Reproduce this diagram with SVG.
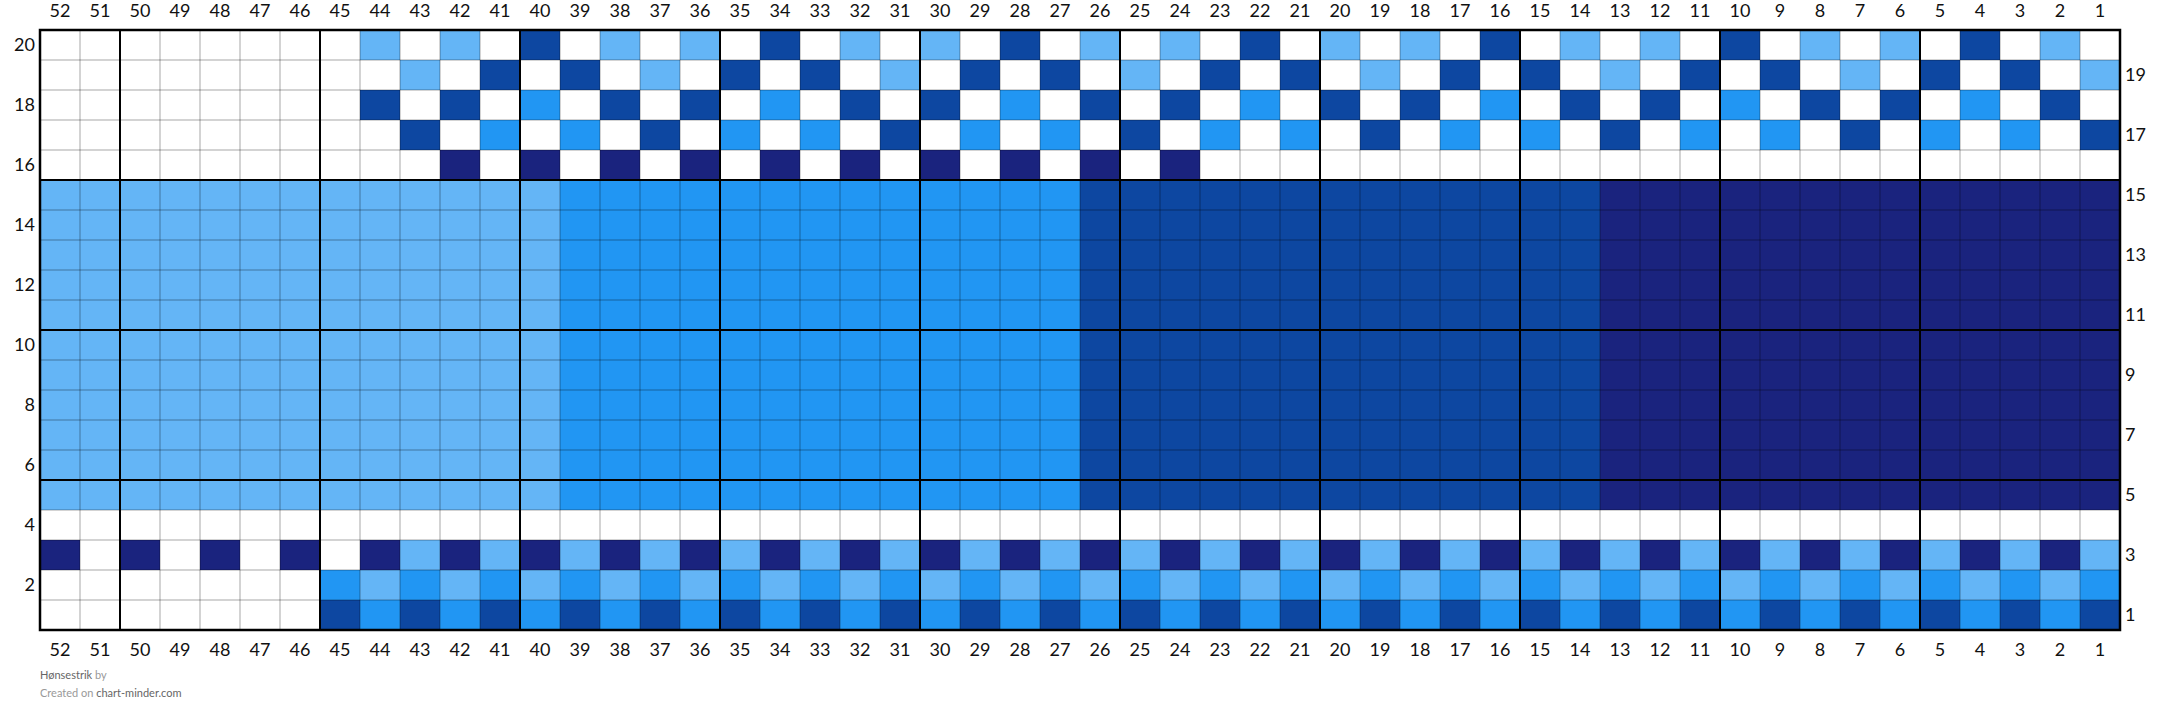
<svg xmlns="http://www.w3.org/2000/svg" width="2160" height="723" viewBox="0 0 2160 723">
<style>
.lbl{font-family:Lato,"Liberation Sans",sans-serif;font-size:18px;fill:#111;}
.top,.bot{text-anchor:middle;}
.lft{text-anchor:end;}
.rgt{text-anchor:start;}
.thin{fill:none;stroke:#000;stroke-opacity:0.35;stroke-width:1;}
.thick{fill:none;stroke:#000;stroke-width:2;}
.foot{font-family:Lato,"Liberation Sans",sans-serif;font-size:11px;}
</style>
<defs>
<pattern id="pR1" width="80" height="30" patternUnits="userSpaceOnUse"><rect width="40" height="30" fill="#0D47A1"/><rect x="40" width="40" height="30" fill="#2196F3"/></pattern>
<pattern id="pR2" width="80" height="30" patternUnits="userSpaceOnUse"><rect width="40" height="30" fill="#2196F3"/><rect x="40" width="40" height="30" fill="#64B5F6"/></pattern>
<pattern id="pR3" width="80" height="30" patternUnits="userSpaceOnUse"><rect width="40" height="30" fill="#64B5F6"/><rect x="40" width="40" height="30" fill="#1A237E"/></pattern>
<pattern id="pN" width="80" height="30" patternUnits="userSpaceOnUse"><rect x="40" width="40" height="30" fill="#1A237E"/></pattern>
<pattern id="p20" width="240" height="30" patternUnits="userSpaceOnUse"><rect x="40" width="40" height="30" fill="#0D47A1"/><rect x="120" width="40" height="30" fill="#64B5F6"/><rect x="200" width="40" height="30" fill="#64B5F6"/></pattern>
<pattern id="p19" width="240" height="30" patternUnits="userSpaceOnUse"><rect x="0" width="40" height="30" fill="#0D47A1"/><rect x="80" width="40" height="30" fill="#0D47A1"/><rect x="160" width="40" height="30" fill="#64B5F6"/></pattern>
<pattern id="p18" width="240" height="30" patternUnits="userSpaceOnUse"><rect x="40" width="40" height="30" fill="#2196F3"/><rect x="120" width="40" height="30" fill="#0D47A1"/><rect x="200" width="40" height="30" fill="#0D47A1"/></pattern>
<pattern id="p17" width="240" height="30" patternUnits="userSpaceOnUse"><rect x="0" width="40" height="30" fill="#2196F3"/><rect x="80" width="40" height="30" fill="#2196F3"/><rect x="160" width="40" height="30" fill="#0D47A1"/></pattern>
</defs>
<rect width="2160" height="723" fill="#fff"/>
<g id="cells">
<rect x="40" y="30" width="2080" height="600" fill="#fff"/>
<rect x="360" y="30" width="1760" height="30" fill="url(#p20)"/>
<rect x="360" y="60" width="1760" height="30" fill="url(#p19)"/>
<rect x="360" y="90" width="1760" height="30" fill="url(#p18)"/>
<rect x="360" y="120" width="1760" height="30" fill="url(#p17)"/>
<rect x="440" y="150" width="760" height="30" fill="url(#pN)"/>
<rect x="40" y="180" width="520" height="330" fill="#64B5F6"/>
<rect x="560" y="180" width="520" height="330" fill="#2196F3"/>
<rect x="1080" y="180" width="520" height="330" fill="#0D47A1"/>
<rect x="1600" y="180" width="520" height="330" fill="#1A237E"/>
<rect x="40" y="540" width="320" height="30" fill="url(#pN)"/>
<rect x="360" y="540" width="1760" height="30" fill="url(#pR3)"/>
<rect x="320" y="570" width="1800" height="30" fill="url(#pR2)"/>
<rect x="320" y="600" width="1800" height="30" fill="url(#pR1)"/>
</g>
<g id="grid">
<path class="thin" d="M80 30V630M160 30V630M200 30V630M240 30V630M280 30V630M360 30V630M400 30V630M440 30V630M480 30V630M560 30V630M600 30V630M640 30V630M680 30V630M760 30V630M800 30V630M840 30V630M880 30V630M960 30V630M1000 30V630M1040 30V630M1080 30V630M1160 30V630M1200 30V630M1240 30V630M1280 30V630M1360 30V630M1400 30V630M1440 30V630M1480 30V630M1560 30V630M1600 30V630M1640 30V630M1680 30V630M1760 30V630M1800 30V630M1840 30V630M1880 30V630M1960 30V630M2000 30V630M2040 30V630M2080 30V630M40 60H2120M40 90H2120M40 120H2120M40 150H2120M40 210H2120M40 240H2120M40 270H2120M40 300H2120M40 360H2120M40 390H2120M40 420H2120M40 450H2120M40 510H2120M40 540H2120M40 570H2120M40 600H2120"/>
<path class="thick" d="M120 30V630M320 30V630M520 30V630M720 30V630M920 30V630M1120 30V630M1320 30V630M1520 30V630M1720 30V630M1920 30V630M40 180H2120M40 330H2120M40 480H2120"/>
<rect x="40" y="30" width="2080" height="600" fill="none" stroke="#000" stroke-width="2.5"/>
</g>
<g id="col-labels-top" class="lbl top">
<text x="60" y="17">52</text><text x="100" y="17">51</text><text x="140" y="17">50</text><text x="180" y="17">49</text><text x="220" y="17">48</text><text x="260" y="17">47</text><text x="300" y="17">46</text><text x="340" y="17">45</text><text x="380" y="17">44</text><text x="420" y="17">43</text><text x="460" y="17">42</text><text x="500" y="17">41</text><text x="540" y="17">40</text><text x="580" y="17">39</text><text x="620" y="17">38</text><text x="660" y="17">37</text><text x="700" y="17">36</text><text x="740" y="17">35</text><text x="780" y="17">34</text><text x="820" y="17">33</text><text x="860" y="17">32</text><text x="900" y="17">31</text><text x="940" y="17">30</text><text x="980" y="17">29</text><text x="1020" y="17">28</text><text x="1060" y="17">27</text><text x="1100" y="17">26</text><text x="1140" y="17">25</text><text x="1180" y="17">24</text><text x="1220" y="17">23</text><text x="1260" y="17">22</text><text x="1300" y="17">21</text><text x="1340" y="17">20</text><text x="1380" y="17">19</text><text x="1420" y="17">18</text><text x="1460" y="17">17</text><text x="1500" y="17">16</text><text x="1540" y="17">15</text><text x="1580" y="17">14</text><text x="1620" y="17">13</text><text x="1660" y="17">12</text><text x="1700" y="17">11</text><text x="1740" y="17">10</text><text x="1780" y="17">9</text><text x="1820" y="17">8</text><text x="1860" y="17">7</text><text x="1900" y="17">6</text><text x="1940" y="17">5</text><text x="1980" y="17">4</text><text x="2020" y="17">3</text><text x="2060" y="17">2</text><text x="2100" y="17">1</text>
</g>
<g id="col-labels-bottom" class="lbl bot">
<text x="60" y="656">52</text><text x="100" y="656">51</text><text x="140" y="656">50</text><text x="180" y="656">49</text><text x="220" y="656">48</text><text x="260" y="656">47</text><text x="300" y="656">46</text><text x="340" y="656">45</text><text x="380" y="656">44</text><text x="420" y="656">43</text><text x="460" y="656">42</text><text x="500" y="656">41</text><text x="540" y="656">40</text><text x="580" y="656">39</text><text x="620" y="656">38</text><text x="660" y="656">37</text><text x="700" y="656">36</text><text x="740" y="656">35</text><text x="780" y="656">34</text><text x="820" y="656">33</text><text x="860" y="656">32</text><text x="900" y="656">31</text><text x="940" y="656">30</text><text x="980" y="656">29</text><text x="1020" y="656">28</text><text x="1060" y="656">27</text><text x="1100" y="656">26</text><text x="1140" y="656">25</text><text x="1180" y="656">24</text><text x="1220" y="656">23</text><text x="1260" y="656">22</text><text x="1300" y="656">21</text><text x="1340" y="656">20</text><text x="1380" y="656">19</text><text x="1420" y="656">18</text><text x="1460" y="656">17</text><text x="1500" y="656">16</text><text x="1540" y="656">15</text><text x="1580" y="656">14</text><text x="1620" y="656">13</text><text x="1660" y="656">12</text><text x="1700" y="656">11</text><text x="1740" y="656">10</text><text x="1780" y="656">9</text><text x="1820" y="656">8</text><text x="1860" y="656">7</text><text x="1900" y="656">6</text><text x="1940" y="656">5</text><text x="1980" y="656">4</text><text x="2020" y="656">3</text><text x="2060" y="656">2</text><text x="2100" y="656">1</text>
</g>
<g id="row-labels-left" class="lbl lft">
<text x="35" y="51">20</text><text x="35" y="111">18</text><text x="35" y="171">16</text><text x="35" y="231">14</text><text x="35" y="291">12</text><text x="35" y="351">10</text><text x="35" y="411">8</text><text x="35" y="471">6</text><text x="35" y="531">4</text><text x="35" y="591">2</text>
</g>
<g id="row-labels-right" class="lbl rgt">
<text x="2125" y="81">19</text><text x="2125" y="141">17</text><text x="2125" y="201">15</text><text x="2125" y="261">13</text><text x="2125" y="321">11</text><text x="2125" y="381">9</text><text x="2125" y="441">7</text><text x="2125" y="501">5</text><text x="2125" y="561">3</text><text x="2125" y="621">1</text>
</g>
<g id="footer" class="foot">
<text x="40" y="679"><tspan fill="#666">Hønsestrik</tspan><tspan fill="#999"> by</tspan></text>
<text x="40" y="697"><tspan fill="#999">Created on </tspan><tspan fill="#666">chart-minder.com</tspan></text>
</g>
</svg>
